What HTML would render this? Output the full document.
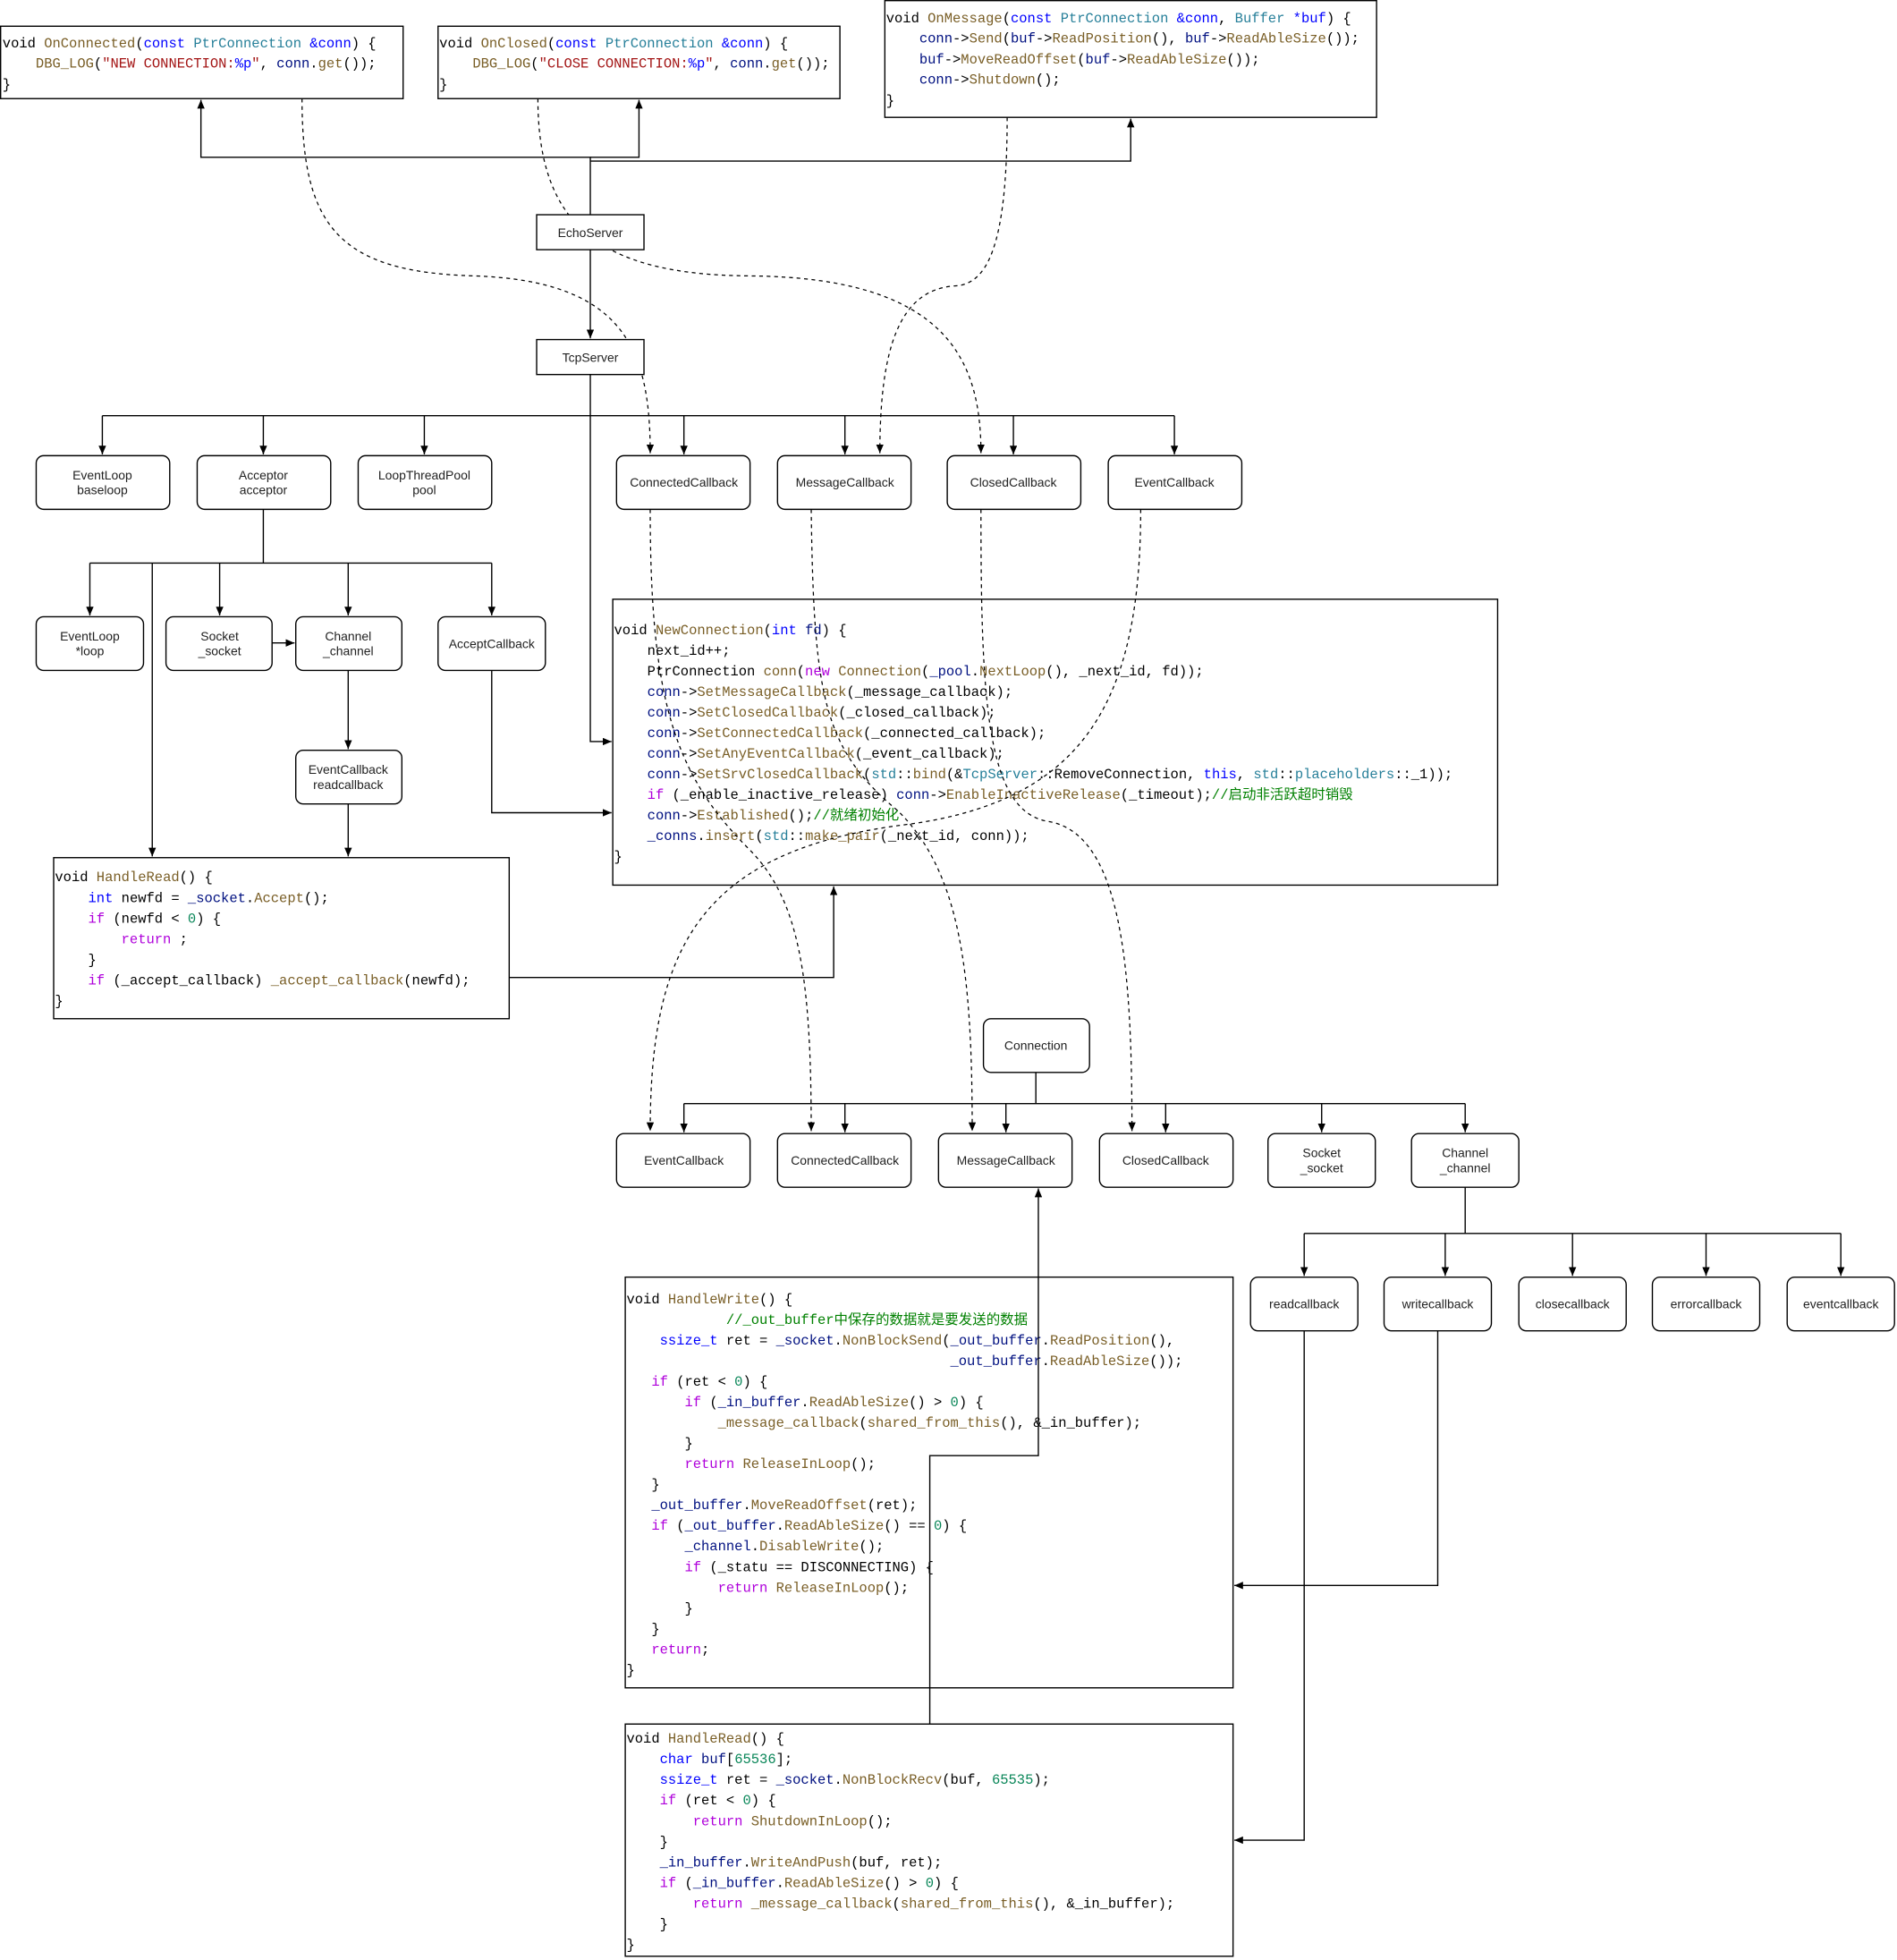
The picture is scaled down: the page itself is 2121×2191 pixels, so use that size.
<!DOCTYPE html>
<html><head><meta charset="utf-8"><style>
html,body{margin:0;padding:0;background:#fff}
svg{display:block}
.code{font-family:"Liberation Mono","Noto Sans CJK SC",monospace;font-size:11.1px;fill:#000}
.code text{white-space:pre}
.lbl{font-family:"Liberation Sans",sans-serif;font-size:10px;fill:#222;text-anchor:middle}
.f{fill:#795e26}.k{fill:#0000ff}.t{fill:#267f99}.v{fill:#001080}.s{fill:#a31515}.c{fill:#008000}.p{fill:#af00db}.n{fill:#098658}
.box{fill:#fff;stroke:#000;stroke-width:1}
.nd{fill:#fff;stroke:#000;stroke-width:1}
.ln{fill:none;stroke:#000;stroke-width:1}
.ds{fill:none;stroke:#000;stroke-width:0.9;stroke-dasharray:3,3}
</style></head><body>
<svg width="2121" height="2191" viewBox="0 0 1520 1570" preserveAspectRatio="none" xmlns="http://www.w3.org/2000/svg">
<defs><marker id="a" markerWidth="8" markerHeight="6" refX="7" refY="3" orient="auto" markerUnits="userSpaceOnUse"><path d="M0,0 L7,3 L0,6 z" fill="#000"/></marker></defs>

<rect class="box" x="0.5" y="21" width="322.5" height="58"/>
<rect class="box" x="351" y="21" width="322" height="58"/>
<rect class="box" x="709" y="0.5" width="394" height="93.5"/>
<rect class="box" x="491" y="480" width="709" height="229"/>
<rect class="box" x="43" y="687" width="365" height="129"/>
<rect class="box" x="501" y="1023" width="487" height="329"/>
<rect class="box" x="501" y="1381" width="487" height="186"/>

<g class="code">
<text x="2" y="38">void <tspan class="f">OnConnected</tspan>(<tspan class="k">const</tspan> <tspan class="t">PtrConnection</tspan> <tspan class="k">&amp;conn</tspan>) {</text>
<text x="2" y="54">    <tspan class="f">DBG_LOG</tspan>(<tspan class="s">"NEW CONNECTION:</tspan><tspan class="k">%p</tspan><tspan class="s">"</tspan>, <tspan class="v">conn</tspan>.<tspan class="f">get</tspan>());</text>
<text x="2" y="71">}</text>

<text x="352" y="38">void <tspan class="f">OnClosed</tspan>(<tspan class="k">const</tspan> <tspan class="t">PtrConnection</tspan> <tspan class="k">&amp;conn</tspan>) {</text>
<text x="352" y="54">    <tspan class="f">DBG_LOG</tspan>(<tspan class="s">"CLOSE CONNECTION:</tspan><tspan class="k">%p</tspan><tspan class="s">"</tspan>, <tspan class="v">conn</tspan>.<tspan class="f">get</tspan>());</text>
<text x="352" y="71">}</text>

<text x="710" y="18">void <tspan class="f">OnMessage</tspan>(<tspan class="k">const</tspan> <tspan class="t">PtrConnection</tspan> <tspan class="k">&amp;conn</tspan>, <tspan class="t">Buffer</tspan> <tspan class="k">*buf</tspan>) {</text>
<text x="710" y="34">    <tspan class="v">conn</tspan>-&gt;<tspan class="f">Send</tspan>(<tspan class="v">buf</tspan>-&gt;<tspan class="f">ReadPosition</tspan>(), <tspan class="v">buf</tspan>-&gt;<tspan class="f">ReadAbleSize</tspan>());</text>
<text x="710" y="51">    <tspan class="v">buf</tspan>-&gt;<tspan class="f">MoveReadOffset</tspan>(<tspan class="v">buf</tspan>-&gt;<tspan class="f">ReadAbleSize</tspan>());</text>
<text x="710" y="67">    <tspan class="v">conn</tspan>-&gt;<tspan class="f">Shutdown</tspan>();</text>
<text x="710" y="84">}</text>

<text x="492" y="508">void <tspan class="f">NewConnection</tspan>(<tspan class="k">int</tspan> <tspan class="v">fd</tspan>) {</text>
<text x="492" y="524.5">    next_id++;</text>
<text x="492" y="541">    PtrConnection <tspan class="f">conn</tspan>(<tspan class="p">new</tspan> <tspan class="f">Connection</tspan>(<tspan class="v">_pool</tspan>.<tspan class="f">NextLoop</tspan>(), _next_id, fd));</text>
<text x="492" y="557.5">    <tspan class="v">conn</tspan>-&gt;<tspan class="f">SetMessageCallback</tspan>(_message_callback);</text>
<text x="492" y="574">    <tspan class="v">conn</tspan>-&gt;<tspan class="f">SetClosedCallback</tspan>(_closed_callback);</text>
<text x="492" y="590.5">    <tspan class="v">conn</tspan>-&gt;<tspan class="f">SetConnectedCallback</tspan>(_connected_callback);</text>
<text x="492" y="607">    <tspan class="v">conn</tspan>-&gt;<tspan class="f">SetAnyEventCallback</tspan>(_event_callback);</text>
<text x="492" y="623.5">    <tspan class="v">conn</tspan>-&gt;<tspan class="f">SetSrvClosedCallback</tspan>(<tspan class="t">std</tspan>::<tspan class="f">bind</tspan>(&amp;<tspan class="t">TcpServer</tspan>::RemoveConnection, <tspan class="k">this</tspan>, <tspan class="t">std</tspan>::<tspan class="t">placeholders</tspan>::_1));</text>
<text x="492" y="640">    <tspan class="p">if</tspan> (_enable_inactive_release) <tspan class="v">conn</tspan>-&gt;<tspan class="f">EnableInactiveRelease</tspan>(_timeout);<tspan class="c">//启动非活跃超时销毁</tspan></text>
<text x="492" y="656.5">    <tspan class="v">conn</tspan>-&gt;<tspan class="f">Established</tspan>();<tspan class="c">//就绪初始化</tspan></text>
<text x="492" y="673">    <tspan class="v">_conns</tspan>.<tspan class="f">insert</tspan>(<tspan class="t">std</tspan>::<tspan class="f">make_pair</tspan>(_next_id, conn));</text>
<text x="492" y="689.5">}</text>

<text x="44" y="706">void <tspan class="f">HandleRead</tspan>() {</text>
<text x="44" y="722.5">    <tspan class="k">int</tspan> newfd = <tspan class="v">_socket</tspan>.<tspan class="f">Accept</tspan>();</text>
<text x="44" y="739">    <tspan class="p">if</tspan> (newfd &lt; <tspan class="n">0</tspan>) {</text>
<text x="44" y="755.5">        <tspan class="p">return</tspan> ;</text>
<text x="44" y="772">    }</text>
<text x="44" y="788.5">    <tspan class="p">if</tspan> (_accept_callback) <tspan class="f">_accept_callback</tspan>(newfd);</text>
<text x="44" y="805">}</text>

<text x="502" y="1044">void <tspan class="f">HandleWrite</tspan>() {</text>
<text x="502" y="1060.5">            <tspan class="c">//_out_buffer中保存的数据就是要发送的数据</tspan></text>
<text x="502" y="1077">    <tspan class="k">ssize_t</tspan> ret = <tspan class="v">_socket</tspan>.<tspan class="f">NonBlockSend</tspan>(<tspan class="v">_out_buffer</tspan>.<tspan class="f">ReadPosition</tspan>(),</text>
<text x="502" y="1093.5">                                       <tspan class="v">_out_buffer</tspan>.<tspan class="f">ReadAbleSize</tspan>());</text>
<text x="502" y="1110">   <tspan class="p">if</tspan> (ret &lt; <tspan class="n">0</tspan>) {</text>
<text x="502" y="1126.5">       <tspan class="p">if</tspan> (<tspan class="v">_in_buffer</tspan>.<tspan class="f">ReadAbleSize</tspan>() &gt; <tspan class="n">0</tspan>) {</text>
<text x="502" y="1143">           <tspan class="f">_message_callback</tspan>(<tspan class="f">shared_from_this</tspan>(), &amp;_in_buffer);</text>
<text x="502" y="1159.5">       }</text>
<text x="502" y="1176">       <tspan class="p">return</tspan> <tspan class="f">ReleaseInLoop</tspan>();</text>
<text x="502" y="1192.5">   }</text>
<text x="502" y="1209">   <tspan class="v">_out_buffer</tspan>.<tspan class="f">MoveReadOffset</tspan>(ret);</text>
<text x="502" y="1225.5">   <tspan class="p">if</tspan> (<tspan class="v">_out_buffer</tspan>.<tspan class="f">ReadAbleSize</tspan>() == <tspan class="n">0</tspan>) {</text>
<text x="502" y="1242">       <tspan class="v">_channel</tspan>.<tspan class="f">DisableWrite</tspan>();</text>
<text x="502" y="1258.5">       <tspan class="p">if</tspan> (_statu == DISCONNECTING) {</text>
<text x="502" y="1275">           <tspan class="p">return</tspan> <tspan class="f">ReleaseInLoop</tspan>();</text>
<text x="502" y="1291.5">       }</text>
<text x="502" y="1308">   }</text>
<text x="502" y="1324.5">   <tspan class="p">return</tspan>;</text>
<text x="502" y="1341">}</text>

<text x="502" y="1396">void <tspan class="f">HandleRead</tspan>() {</text>
<text x="502" y="1412.5">    <tspan class="k">char</tspan> <tspan class="v">buf</tspan>[<tspan class="n">65536</tspan>];</text>
<text x="502" y="1429">    <tspan class="k">ssize_t</tspan> ret = <tspan class="v">_socket</tspan>.<tspan class="f">NonBlockRecv</tspan>(buf, <tspan class="n">65535</tspan>);</text>
<text x="502" y="1445.5">    <tspan class="p">if</tspan> (ret &lt; <tspan class="n">0</tspan>) {</text>
<text x="502" y="1462">        <tspan class="p">return</tspan> <tspan class="f">ShutdownInLoop</tspan>();</text>
<text x="502" y="1478.5">    }</text>
<text x="502" y="1495">    <tspan class="v">_in_buffer</tspan>.<tspan class="f">WriteAndPush</tspan>(buf, ret);</text>
<text x="502" y="1511.5">    <tspan class="p">if</tspan> (<tspan class="v">_in_buffer</tspan>.<tspan class="f">ReadAbleSize</tspan>() &gt; <tspan class="n">0</tspan>) {</text>
<text x="502" y="1528">        <tspan class="p">return</tspan> <tspan class="f">_message_callback</tspan>(<tspan class="f">shared_from_this</tspan>(), &amp;_in_buffer);</text>
<text x="502" y="1544.5">    }</text>
<text x="502" y="1561">}</text>
</g>

<g class="ln">
<path d="M473,172 V126 H161 V80" marker-end="url(#a)"/>
<path d="M473,126 H512 V80" marker-end="url(#a)"/>
<path d="M473,129 H906 V95" marker-end="url(#a)"/>
<path d="M473,200 V271" marker-end="url(#a)"/>
<path d="M473,300 V333"/>
<path d="M82,333 H941"/>
<path d="M82,333 V364" marker-end="url(#a)"/>
<path d="M211,333 V364" marker-end="url(#a)"/>
<path d="M340,333 V364" marker-end="url(#a)"/>
<path d="M548,333 V364" marker-end="url(#a)"/>
<path d="M677,333 V364" marker-end="url(#a)"/>
<path d="M812,333 V364" marker-end="url(#a)"/>
<path d="M941,333 V364" marker-end="url(#a)"/>
<path d="M473,333 V594 H490" marker-end="url(#a)"/>
<path d="M211,408 V451"/>
<path d="M72,451 H394"/>
<path d="M72,451 V493" marker-end="url(#a)"/>
<path d="M176,451 V493" marker-end="url(#a)"/>
<path d="M279,451 V493" marker-end="url(#a)"/>
<path d="M394,451 V493" marker-end="url(#a)"/>
<path d="M122,451 V686" marker-end="url(#a)"/>
<path d="M218,515 H236" marker-end="url(#a)"/>
<path d="M279,537 V600" marker-end="url(#a)"/>
<path d="M279,644 V686" marker-end="url(#a)"/>
<path d="M394,537 V651 H490" marker-end="url(#a)"/>
<path d="M408,783 H668 V710" marker-end="url(#a)"/>
<path d="M830,859 V884"/>
<path d="M548,884 H1174"/>
<path d="M548,884 V907" marker-end="url(#a)"/>
<path d="M677,884 V907" marker-end="url(#a)"/>
<path d="M806,884 V907" marker-end="url(#a)"/>
<path d="M934,884 V907" marker-end="url(#a)"/>
<path d="M1059,884 V907" marker-end="url(#a)"/>
<path d="M1174,884 V907" marker-end="url(#a)"/>
<path d="M1174,951 V988"/>
<path d="M1045,988 H1475"/>
<path d="M1045,988 V1022" marker-end="url(#a)"/>
<path d="M1158,988 V1022" marker-end="url(#a)"/>
<path d="M1260,988 V1022" marker-end="url(#a)"/>
<path d="M1367,988 V1022" marker-end="url(#a)"/>
<path d="M1475,988 V1022" marker-end="url(#a)"/>
<path d="M1045,1066 V1474 H989" marker-end="url(#a)"/>
<path d="M1152,1066 V1270 H989" marker-end="url(#a)"/>
<path d="M745,1381 V1166 H832 V952" marker-end="url(#a)"/>
</g>

<g class="ds">
<path d="M242,79 C242,180 270,218 380,221 C500,225 521,280 521,363" marker-end="url(#a)"/>
<path d="M431,79 C431,180 480,220 600,221 C760,222 786,290 786,363" marker-end="url(#a)"/>
<path d="M807,94 C807,200 790,228 765,229 C720,232 705,280 705,363" marker-end="url(#a)"/>
<path d="M914,408 C914,560 870,640 730,660 C560,680 521,760 521,906" marker-end="url(#a)"/>
<path d="M521,408 C521,560 540,620 600,680 C640,720 650,780 650,906" marker-end="url(#a)"/>
<path d="M650,408 C652,560 660,600 720,650 C770,700 779,780 779,906" marker-end="url(#a)"/>
<path d="M786,408 C786,560 790,650 840,658 C900,668 907,780 907,906" marker-end="url(#a)"/>
</g>

<rect class="box" x="430" y="172" width="86" height="28"/>
<text class="lbl" x="473" y="190">EchoServer</text>
<rect class="box" x="430" y="272" width="86" height="28"/>
<text class="lbl" x="473" y="290">TcpServer</text>

<g>
<rect class="nd" x="29" y="365" width="107" height="43" rx="6"/>
<text class="lbl" x="82" y="384">EventLoop</text><text class="lbl" x="82" y="396">baseloop</text>
<rect class="nd" x="158" y="365" width="107" height="43" rx="6"/>
<text class="lbl" x="211" y="384">Acceptor</text><text class="lbl" x="211" y="396">acceptor</text>
<rect class="nd" x="287" y="365" width="107" height="43" rx="6"/>
<text class="lbl" x="340" y="384">LoopThreadPool</text><text class="lbl" x="340" y="396">pool</text>
<rect class="nd" x="494" y="365" width="107" height="43" rx="6"/>
<text class="lbl" x="548" y="390">ConnectedCallback</text>
<rect class="nd" x="623" y="365" width="107" height="43" rx="6"/>
<text class="lbl" x="677" y="390">MessageCallback</text>
<rect class="nd" x="759" y="365" width="107" height="43" rx="6"/>
<text class="lbl" x="812" y="390">ClosedCallback</text>
<rect class="nd" x="888" y="365" width="107" height="43" rx="6"/>
<text class="lbl" x="941" y="390">EventCallback</text>

<rect class="nd" x="29" y="494" width="86" height="43" rx="6"/>
<text class="lbl" x="72" y="513">EventLoop</text><text class="lbl" x="72" y="525">*loop</text>
<rect class="nd" x="133" y="494" width="85" height="43" rx="6"/>
<text class="lbl" x="176" y="513">Socket</text><text class="lbl" x="176" y="525">_socket</text>
<rect class="nd" x="237" y="494" width="85" height="43" rx="6"/>
<text class="lbl" x="279" y="513">Channel</text><text class="lbl" x="279" y="525">_channel</text>
<rect class="nd" x="351" y="494" width="86" height="43" rx="6"/>
<text class="lbl" x="394" y="519">AcceptCallback</text>
<rect class="nd" x="237" y="601" width="85" height="43" rx="6"/>
<text class="lbl" x="279" y="620">EventCallback</text><text class="lbl" x="279" y="632">readcallback</text>

<rect class="nd" x="788" y="816" width="85" height="43" rx="6"/>
<text class="lbl" x="830" y="841">Connection</text>

<rect class="nd" x="494" y="908" width="107" height="43" rx="6"/>
<text class="lbl" x="548" y="933">EventCallback</text>
<rect class="nd" x="623" y="908" width="107" height="43" rx="6"/>
<text class="lbl" x="677" y="933">ConnectedCallback</text>
<rect class="nd" x="752" y="908" width="107" height="43" rx="6"/>
<text class="lbl" x="806" y="933">MessageCallback</text>
<rect class="nd" x="881" y="908" width="107" height="43" rx="6"/>
<text class="lbl" x="934" y="933">ClosedCallback</text>
<rect class="nd" x="1016" y="908" width="86" height="43" rx="6"/>
<text class="lbl" x="1059" y="927">Socket</text><text class="lbl" x="1059" y="939">_socket</text>
<rect class="nd" x="1131" y="908" width="86" height="43" rx="6"/>
<text class="lbl" x="1174" y="927">Channel</text><text class="lbl" x="1174" y="939">_channel</text>

<rect class="nd" x="1002" y="1023" width="86" height="43" rx="6"/>
<text class="lbl" x="1045" y="1048">readcallback</text>
<rect class="nd" x="1109" y="1023" width="86" height="43" rx="6"/>
<text class="lbl" x="1152" y="1048">writecallback</text>
<rect class="nd" x="1217" y="1023" width="86" height="43" rx="6"/>
<text class="lbl" x="1260" y="1048">closecallback</text>
<rect class="nd" x="1324" y="1023" width="86" height="43" rx="6"/>
<text class="lbl" x="1367" y="1048">errorcallback</text>
<rect class="nd" x="1432" y="1023" width="86" height="43" rx="6"/>
<text class="lbl" x="1475" y="1048">eventcallback</text>
</g>
</svg>
</body></html>
